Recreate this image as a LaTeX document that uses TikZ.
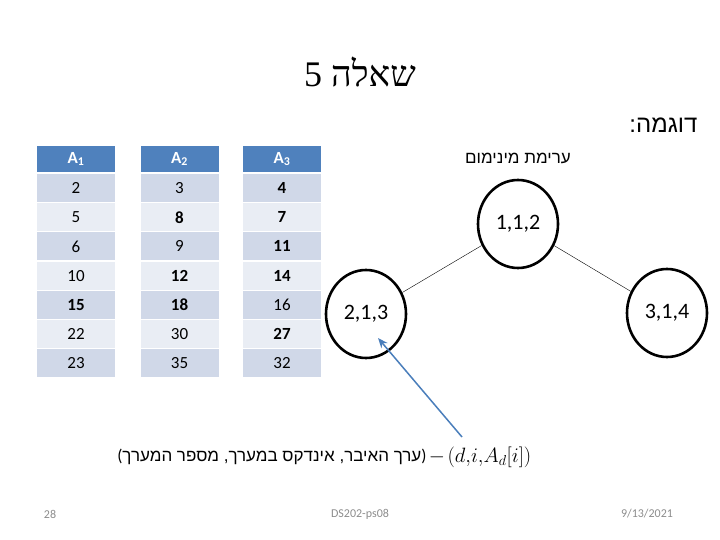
\documentclass[tikz,border=0pt]{standalone}
\usepackage{fontspec}
\usepackage{amsmath}
\setmainfont{Carlito}
\newfontfamily\hebsans[Script=Hebrew]{Liberation Sans}
\newfontfamily\hebserif[Script=Hebrew]{Liberation Serif}
\usetikzlibrary{shapes.geometric,arrows.meta}
\TeXXeTstate=1
\definecolor{headblue}{HTML}{4F81BD}
\definecolor{rowdark}{HTML}{D0D8E8}
\definecolor{rowlight}{HTML}{E9EDF4}
\definecolor{arrowblue}{HTML}{4A7EBB}
\definecolor{footgray}{HTML}{8C8C8C}
\begin{document}
\begin{tikzpicture}[
            x=1pt, y=-1pt,
            head/.style={
                rectangle,
                fill=headblue,
                text=white,
                font=\fontsize{17}{17}\selectfont\bfseries,
                minimum width=78pt,
                minimum height=26pt,
                inner sep=0pt
            },
            cell/.style={
                rectangle,
                minimum width=78pt,
                minimum height=28pt,
                inner sep=0pt,
                font=\fontsize{17}{17}\selectfont
            },
            heapnode/.style={
                ellipse,
                draw=black,
                line width=2.6pt,
                minimum width=80pt,
                minimum height=88pt,
                font=\fontsize{22}{22}\selectfont
            },
            foot/.style={
                text=footgray,
                font=\fontsize{12}{12}\selectfont
            }
        ]
        \useasboundingbox (0,0) rectangle (720,540);

        % title
        \node (title) at (360,72) {\hebserif\fontsize{36}{36}\selectfont\beginR שאלה 5\endR};
        \node[anchor=east] (example) at (701,125) {\hebsans\fontsize{24}{24}\selectfont :\beginR דוגמה\endR};

        % table
        \foreach \c/\x in {1/76, 2/179.5, 3/282}
            \node[head] (h\c) at (\x,159) {A\textsubscript{\c}};
        \foreach \r/\a/\b/\d in {1/2/3/\textbf{4}, 2/5/\textbf{8}/\textbf{7}, 3/6/9/\textbf{11},
                                 4/10/\textbf{12}/\textbf{14}, 5/\textbf{15}/\textbf{18}/16,
                                 6/22/30/\textbf{27}, 7/23/35/32} {
            \pgfmathsetmacro{\yy}{188+29.2*(\r-1)}
            \pgfmathtruncatemacro{\odd}{mod(\r,2)}
            \ifnum\odd=1 \def\rowfill{rowdark}\else \def\rowfill{rowlight}\fi
            \node[cell, fill=\rowfill] (a\r) at (76,\yy) {\a};
            \node[cell, fill=\rowfill] (b\r) at (179.5,\yy) {\b};
            \node[cell, fill=\rowfill] (c\r) at (282,\yy) {\d};
        }

        % heap
        \node (heaplabel) at (518,158) {\hebsans\fontsize{17}{17}\selectfont\beginR ערימת מינימום\endR};
        \node[heapnode] (root) at (518,224) {1,1,2};
        \node[heapnode] (left) at (366,314) {2,1,3};
        \node[heapnode] (right) at (667,313) {3,1,4};

        % bottom line
        \node[anchor=east] (legend) at (430,457) {\fontsize{17}{17}\selectfont(\hebsans\beginR ערך האיבר\kern0pt, אינדקס במערך\kern0pt, מספר המערך\endR\normalfont)};
        \node (dash) at (437,457) {\fontsize{20}{20}\selectfont$-$};
        \node[anchor=west] (triple) at (444,457) {\fontsize{20}{20}\selectfont$(d{,}i{,}A_d[i])$};
        \coordinate (tail) at (462,437);

        % footer
        \node[foot] (page) at (50,514) {28};
        \node[foot] (course) at (360,514) {DS202-ps08};
        \node[foot] (date) at (647,514) {9/13/2021};

        % lines
        \draw[thin] (root) -- (left);
        \draw[thin] (root) -- (right);
        \draw[-{Stealth[length=10pt,width=8pt]}, arrowblue, line width=1.5pt] (tail) -- (378,338);
    \end{tikzpicture}
\end{document}
